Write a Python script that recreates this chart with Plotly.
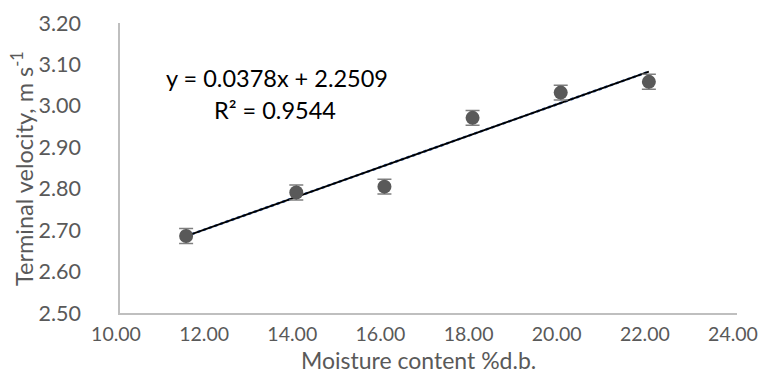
import plotly.graph_objects as go

moisture = [11.5, 14.0, 16.0, 18.0, 20.0, 22.0]
velocity = [2.686, 2.791, 2.805, 2.971, 3.032, 3.058]
velocity_err = [0.018, 0.018, 0.018, 0.018, 0.018, 0.018]
slope = 0.0378
intercept = 2.2509
fit_x = [11.5, 22.0]
fit_y = [slope * x + intercept for x in fit_x]
eq_text = "y = 0.0378x + 2.2509"
r2_text = "R² = 0.9544"
x_title = "Moisture content %d.b."
y_title = "Terminal velocity, m s<sup>-1</sup>"

FONT = "Lato, 'Open Sans', sans-serif"
GREY = "#595959"

# page has an 8px body margin: figure drawn at offset (8, 8)
OFF = 8
SW, SH = 768, 380
W, H = SW - OFF, SH - OFF
# plot area in screen pixels: x 120..737, y 23..313
L, R, T, B = 120 - OFF, SW - 737, 23 - OFF, SH - 313
pw, ph = W - L - R, H - T - B


def px(x):
    return (x - OFF - L) / pw


def py(y):
    return 1 - (y - OFF - T) / ph


fig = go.Figure()
fig.add_trace(go.Scatter(
    x=fit_x, y=fit_y, mode="lines",
    line=dict(color="#4472c4", width=2.5, dash="dot"),
    showlegend=False, hoverinfo="skip"))
fig.add_trace(go.Scatter(
    x=fit_x, y=fit_y, mode="lines",
    line=dict(color="#000000", width=1.8),
    showlegend=False, hoverinfo="skip"))
fig.add_trace(go.Scatter(
    x=moisture, y=velocity, mode="markers",
    marker=dict(color="#595959", size=14),
    error_y=dict(type="data", array=velocity_err, visible=True,
                 color="#7f7f7f", thickness=1.5, width=7),
    showlegend=False))

fig.add_annotation(x=px(277), y=py(78), xref="paper", yref="paper", text=eq_text,
                   xanchor="center", yanchor="middle",
                   showarrow=False, font=dict(family=FONT, size=23.5, color="#000000"))
fig.add_annotation(x=px(275), y=py(110), xref="paper", yref="paper", text=r2_text,
                   xanchor="center", yanchor="middle",
                   showarrow=False, font=dict(family=FONT, size=23.5, color="#000000"))
fig.add_annotation(x=px(418), y=py(360), xref="paper", yref="paper", text=x_title,
                   xanchor="center", yanchor="middle",
                   showarrow=False, font=dict(family=FONT, size=23, color=GREY))
fig.add_annotation(x=px(22), y=py(169), xref="paper", yref="paper", text=y_title,
                   xanchor="center", yanchor="middle", textangle=-90,
                   showarrow=False, font=dict(family=FONT, size=23.5, color=GREY))

fig.update_layout(
    width=W, height=H,
    margin=dict(l=L, r=R, t=T, b=B, autoexpand=False),
    paper_bgcolor="white", plot_bgcolor="white",
    font=dict(family=FONT, size=21, color=GREY),
    xaxis=dict(range=[10, 24], dtick=2, tick0=10, tickformat=".2f",
               showgrid=False, zeroline=False, showline=True,
               linecolor="#bfbfbf", linewidth=1.5, ticks="",
               automargin=False, ticklabelstandoff=3, ticklabelshift=-4,
               tickfont=dict(size=19.5, color=GREY)),
    yaxis=dict(range=[2.5, 3.2], dtick=0.1, tick0=2.5, tickformat=".2f",
               showgrid=False, zeroline=False, showline=True,
               linecolor="#bfbfbf", linewidth=1.5, ticks="",
               automargin=False, ticklabelstandoff=33,
               tickfont=dict(size=21.5, color=GREY)),
)

fig.write_html("out.html")
